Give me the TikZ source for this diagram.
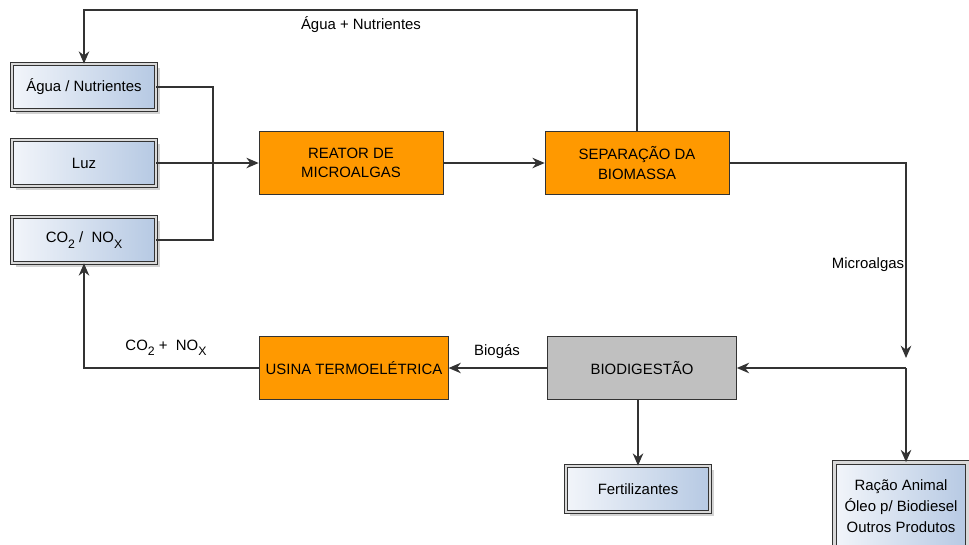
\documentclass[tikz,border=0pt]{standalone}
\usepackage{fontspec}
\setmainfont{Liberation Sans}
\usetikzlibrary{arrows.meta,shadows}

\newcommand{\lowidx}[1]{\raisebox{-0.7ex}{\fontsize{7}{8}\selectfont #1}}

\definecolor{boxorange}{HTML}{FF9900}
\definecolor{boxgray}{HTML}{C0C0C0}
\definecolor{boxblue}{HTML}{B6C9E3}
\definecolor{boxpale}{HTML}{F2F5FA}
\definecolor{lineclr}{HTML}{333333}

\tikzset{
  input/.style={draw=lineclr,double=boxgray!60,double distance=1.6pt,left color=boxpale,right color=boxblue,
    drop shadow={shadow xshift=2pt,shadow yshift=-2pt,opacity=0.35},
    minimum width=2.88cm,minimum height=0.92cm,align=center,font=\fontsize{8.5}{12}\selectfont},
  process/.style={draw=lineclr,fill=boxorange,minimum width=3.68cm,minimum height=1.26cm,
    align=center,font=\fontsize{8.5}{11}\selectfont},
  flow/.style={draw=lineclr,line width=0.8pt,-{Stealth[length=7pt,width=6pt]}},
  link/.style={draw=lineclr,line width=0.8pt},
  lbl/.style={font=\fontsize{8.5}{10}\selectfont}
}

\begin{document}
\begin{tikzpicture}[x=0.02cm,y=-0.02cm]
        \useasboundingbox (0,0) rectangle (969,544);
        \clip (0,0) rectangle (969,544);

        % inputs
        \node[input] (agua) at (84,87) {Água / Nutrientes};
        \node[input] (luz)  at (84,163) {Luz};
        \node[input] (co2)  at (84,240) {CO\lowidx{2} /\ \ NO\lowidx{X}};

        % processes
        \node[process] (reator) at (351,163) {REATOR DE\\MICROALGAS};
        \node[process] (separa) at (637,163) {SEPARAÇÃO DA\\BIOMASSA};
        \node[process,fill=boxgray,minimum width=3.78cm] (biodig) at (642,368) {BIODIGESTÃO};
        \node[process] (usina)  at (354,368) {USINA TERMOELÉTRICA};

        % products
        \node[input] (fert)   at (638,489) {Fertilizantes};
        \node[input,minimum width=2.66cm,minimum height=1.74cm] (racao) at (901,506) {Ração Animal\\Óleo p/ Biodiesel\\Outros Produtos};

        \coordinate (join) at (213,163);
        \coordinate (split) at (906,368);

        % connectors
        \draw[link] (agua.east) -| (join);
        \draw[link] (co2.east) -| (join);
        \draw[flow] (luz.east) -- (reator.west);
        \draw[flow] (reator.east) -- (separa.west);
        \draw[flow] (separa.north) |- (361,10) -| (agua.north);
        \draw[flow] (separa.east) -| ([yshift=0.2cm]split);
        \draw[flow] (split) -- (biodig.east);
        \draw[flow] (split) -- (racao.north -| split);
        \draw[flow] (biodig.west) -- (usina.east);
        \draw[flow] (biodig.south -| fert.north) -- (fert.north);
        \draw[flow] (usina.west) -| (co2.south);

        % labels
        \node[lbl] (lagua) at (361,25) {Água + Nutrientes};
        \node[lbl] (lmicro) at (868,265) {Microalgas};
        \node[lbl] (lbiogas) at (497,352) {Biogás};
        \node[lbl] (lgas) at (166,348) {CO\lowidx{2} +\ \ NO\lowidx{X}};
      \end{tikzpicture}
\end{document}
